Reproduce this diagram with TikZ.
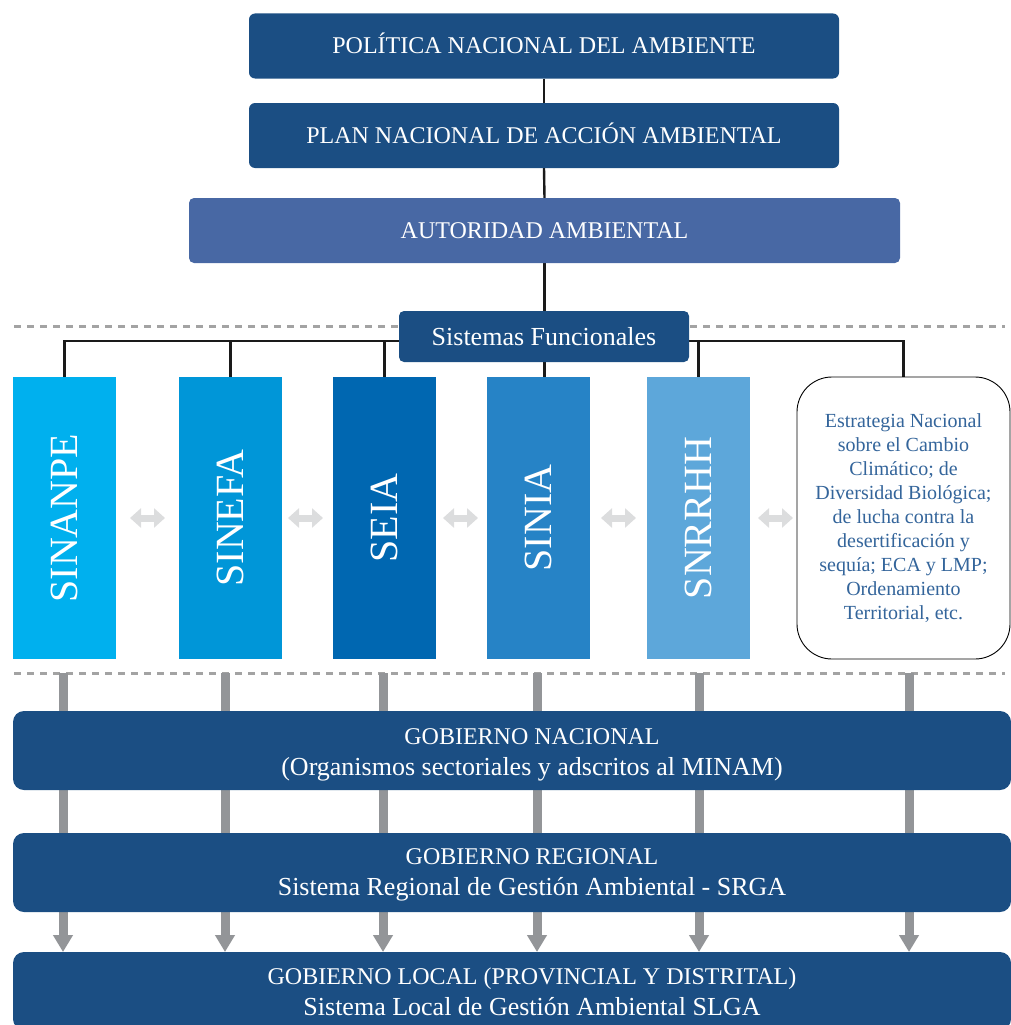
\documentclass[tikz,border=0pt]{standalone}
\usepackage{fontspec}
\setmainfont{Liberation Serif}
\usetikzlibrary{arrows.meta,backgrounds,calc}
\definecolor{navy}{HTML}{1B4E83}
\definecolor{auth}{HTML}{4868A4}
\definecolor{cA}{HTML}{00B0EE}
\definecolor{cB}{HTML}{0096D8}
\definecolor{cC}{HTML}{0067B1}
\definecolor{cD}{HTML}{2683C6}
\definecolor{cE}{HTML}{5DA7DA}
\definecolor{gline}{HTML}{939598}
\definecolor{dotc}{HTML}{A3A3A3}
\definecolor{dblc}{HTML}{DCDDDE}
\definecolor{esttext}{HTML}{34659B}
\definecolor{blkline}{HTML}{1A1A1A}
\begin{document}
\begin{tikzpicture}[x=1pt,y=-1pt,
 every node/.style={inner sep=0pt, outer sep=0pt},
 topbox/.style={fill=navy, rounded corners=6pt, text=white, font=\fontsize{24}{28}\selectfont, minimum width=590pt, minimum height=65pt, text height=16pt, text depth=0pt},
 authbox/.style={topbox, fill=auth, minimum width=711pt, rounded corners=5pt},
 sfbox/.style={fill=navy, rounded corners=5pt, text=white, font=\fontsize{26}{30}\selectfont, minimum width=290pt, minimum height=51pt, text height=17.5pt, text depth=0pt},
 colbox/.style={minimum width=103pt, minimum height=282pt},
 coltext/.style={rotate=90, text=white, font=\fontsize{40}{44}\selectfont, text height=26.5pt, text depth=0pt},
 estbox/.style={draw=black, line width=0.9pt, fill=white, rounded corners=35pt, minimum width=213pt, minimum height=282pt, text=esttext, align=center, font=\fontsize{20}{24.1}\selectfont},
 govbox/.style={fill=navy, rounded corners=11pt, minimum width=998pt},
 govtext/.style={text=white, align=center, font=\fontsize{26}{31}\selectfont},
 blk/.style={line width=2.4pt, draw=blkline},
 gry/.style={line width=9pt, draw=gline, -{Triangle[length=17pt,width=19pt]}},
 dotl/.style={line width=3pt, draw=dotc, dash pattern=on 7pt off 6pt},
 dbl/.style={line width=7pt, draw=dblc, {Triangle[length=11pt,width=19pt]}-{Triangle[length=11pt,width=19pt]}},
]
\useasboundingbox (0,0) rectangle (1011,1025);

% top chain
\node[topbox] (pn) at (544,46) {POLÍTICA NACIONAL DEL AMBIENTE};
\node[topbox] (pa) at (544,135.5) {PLAN NACIONAL DE ACCIÓN AMBIENTAL};
\node[authbox] (aa) at (544.5,230.5) {AUTORIDAD AMBIENTAL};
\node[sfbox] (sf) at (544,336.5) {Sistemas Funcionales};

% columns
\node[colbox, fill=cA] (c1) at (64.5,518) {};
\node[coltext] (t1) at (c1) {SINANPE};
\node[colbox, fill=cB] (c2) at (230.5,518) {};
\node[coltext] (t2) at (c2) {SINEFA};
\node[colbox, fill=cC] (c3) at (384.5,518) {};
\node[coltext] (t3) at (c3) {SEIA};
\node[colbox, fill=cD] (c4) at (538.5,518) {};
\node[coltext] (t4) at (c4) {SINIA};
\node[colbox, fill=cE] (c5) at (698.5,518) {};
\node[coltext] (t5) at (c5) {SNRRHH};
\node[estbox] (c6) at (903.5,518) {Estrategia Nacional\\sobre el Cambio\\Climático; de\\Diversidad Biológica;\\de lucha contra la\\desertificación y\\sequía; ECA y LMP;\\Ordenamiento\\Territorial, etc.};

% double arrows between columns
\draw[dbl, shorten <=14pt, shorten >=14pt] (c1) -- (c2);
\draw[dbl, shorten <=6pt, shorten >=10pt] (c2) -- (c3);
\draw[dbl, shorten <=7pt, shorten >=9pt] (c3) -- (c4);
\draw[dbl, shorten <=11pt, shorten >=11pt] (c4) -- (c5);
\draw[dbl, shorten <=8pt, shorten >=4pt] (c5) -- (c6);

% government boxes
\node[govbox, minimum height=79pt] (gn) at (512,750.5) {};
\node[govtext] (gnt) at (532,750.5) {{\fontsize{24}{31}\selectfont\rule{0pt}{25pt}GOBIERNO NACIONAL}\\(Organismos sectoriales y adscritos al MINAM)};
\node[govbox, minimum height=79pt] (gr) at (512,872.5) {};
\node[govtext] (grt) at (532,872) {{\fontsize{24}{30}\selectfont\rule{0pt}{21.6pt}GOBIERNO REGIONAL}\\Sistema Regional de Gestión Ambiental - SRGA};
\node[govbox, minimum height=78pt] (gl) at (512,991) {};
\node[govtext] (glt) at (532,990) {{\fontsize{24}{31}\selectfont\rule{0pt}{20.6pt}GOBIERNO LOCAL (PROVINCIAL Y DISTRITAL)}\\Sistema Local de Gestión Ambiental SLGA};

\coordinate (bus) at (0,341);
\coordinate (g1) at (63,673);
\coordinate (g2) at (225,673);
\coordinate (g3) at (383,673);
\coordinate (g4) at (537,673);
\coordinate (g5) at (699,673);
\coordinate (g6) at (909,673);

\begin{scope}[on background layer]
 \draw[dotl] (14,326) -- (1005,326);
 \draw[dotl] (14,673) -- (1005,673);
 \draw[blk] (pn.south) -- (pa.north);
 \draw[blk] (pa.south) -- (aa.north);
 \draw[blk] (aa.south) -- (aa.south |- c4.north);
 \draw[blk] (c1.north) |- (bus -| c6.north) -- (c6.north);
 \draw[blk] (c2.north) -- (c2.north |- bus);
 \draw[blk] (c3.north) -- (c3.north |- bus);
 \draw[blk] (c5.north) -- (c5.north |- bus);
 \foreach \g in {g1,g2,g3,g4,g5,g6}
   \draw[gry] (\g) -- (\g |- gl.north);
\end{scope}
\end{tikzpicture}
\end{document}
